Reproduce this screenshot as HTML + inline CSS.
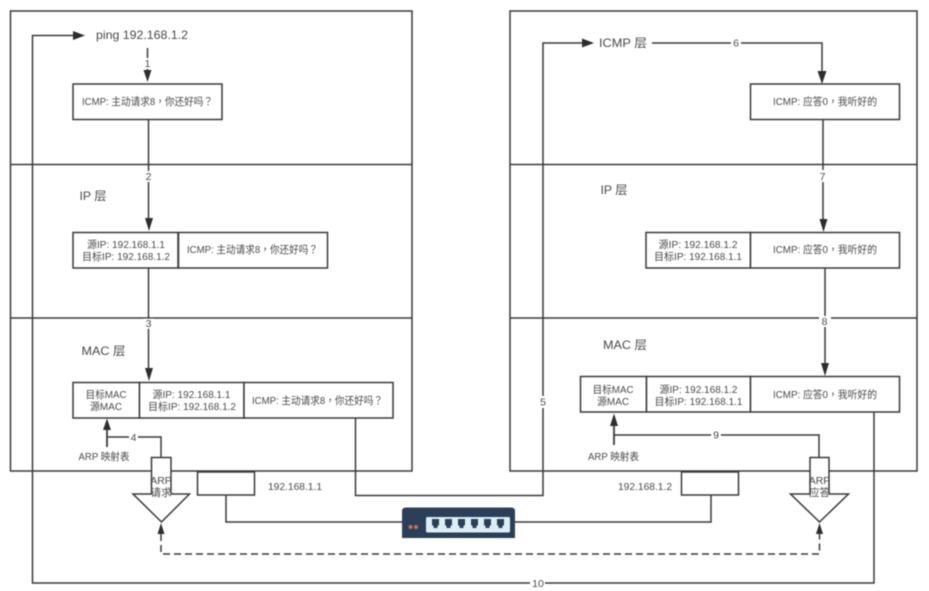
<!DOCTYPE html>
<html>
<head>
<meta charset="utf-8">
<style>
html,body{margin:0;padding:0;background:#fff;width:929px;height:591px;overflow:hidden}
svg{display:block;filter:blur(0.4px)}
text{font-family:"Liberation Sans","Noto Sans CJK TC",sans-serif;fill:#4a4a4a;font-size:10.5px;text-anchor:middle}
.l{fill:none;stroke:#3a3a3a;stroke-width:1.5}
.b{fill:#fff;stroke:#3a3a3a;stroke-width:1.5}
.a{fill:#2e2e2e;stroke:none}
.big{font-size:12px}
.bg{fill:#fff;stroke:none}
</style>
</head>
<body>
<svg width="929" height="591" viewBox="0 0 929 591" xmlns="http://www.w3.org/2000/svg">
<rect width="929" height="591" fill="#fff"/>

<!-- frames -->
<rect class="l" x="10.5" y="11" width="401.5" height="460"/>
<path class="l" d="M10.5 164.5H412M10.5 318H412"/>
<rect class="l" x="510" y="11" width="407" height="460"/>
<path class="l" d="M510 164.5H917M510 318H917"/>

<!-- connectors -->
<path class="l" d="M874 412V583H32.500V35.500H76"/>
<path class="a" d="M85 35.500L73 31V40Z"/>
<path class="l" d="M355.500 418V495.500H543V43H585"/>
<path class="a" d="M594 43L582 38.500V47.500Z"/>
<path class="l" d="M652 43H822V75"/>
<path class="a" d="M822 84L817.500 71H826.500Z"/>
<path class="l" d="M147.500 48V75"/>
<path class="a" d="M147.500 82L143.500 70H151.500Z"/>
<path class="l" d="M148.500 119V222"/>
<path class="a" d="M149 231L145 218H153Z"/>
<path class="l" d="M148.500 268V372"/>
<path class="a" d="M149 381L145 368H153Z"/>
<path class="l" d="M823 119V222"/>
<path class="a" d="M823.500 232L819.500 219H827.500Z"/>
<path class="l" d="M825 264V367"/>
<path class="a" d="M825 376L821 363H829Z"/>
<path class="l" d="M161 458V437H107"/>
<path class="l" d="M107 447V428" style="stroke-width:1.800"/>
<path class="a" d="M107 418.500L103 430H111Z"/>
<path class="l" d="M819 458V435H614"/>
<path class="l" d="M614 445V425" style="stroke-width:1.800"/>
<path class="a" d="M614 413.500L610 426H618Z"/>

<!-- dashed -->
<path class="l" d="M161 534V554H819.500V534" stroke-dasharray="7 4"/>
<path class="a" d="M161 523L157.500 534H164.500Z"/>
<path class="a" d="M819.500 523L816 534H823Z"/>

<!-- switch links -->
<path class="l" d="M226 495V522H402M515 522H711V495"/>

<!-- ICMP boxes -->
<rect class="b" x="73" y="84" width="149" height="35.500"/>
<rect class="b" x="750.500" y="84" width="149" height="35.500"/>

<!-- IP boxes -->
<rect class="b" x="73" y="232.500" width="105" height="35.500"/>
<rect class="b" x="178.500" y="232.500" width="149" height="35.500"/>
<rect class="b" x="646" y="232.500" width="104.500" height="35.500"/>
<rect class="b" x="750.500" y="232.500" width="149" height="35.500"/>

<!-- MAC boxes -->
<rect class="b" x="73" y="382.500" width="66.500" height="35.500"/>
<rect class="b" x="139.500" y="382.500" width="104.500" height="35.500"/>
<rect class="b" x="244" y="382.500" width="149" height="35.500"/>
<rect class="b" x="580.500" y="376.500" width="66" height="35.500"/>
<rect class="b" x="646.500" y="376.500" width="104" height="35.500"/>
<rect class="b" x="750.500" y="376.500" width="149" height="35.500"/>

<!-- NIC boxes -->
<rect class="b" x="197.500" y="472" width="57" height="23"/>
<rect class="b" x="681.500" y="472" width="57" height="23"/>

<!-- ARP arrows -->
<path class="b" d="M133 494H151.500V457.500H171V494H189.500L161.500 522Z"/>
<path class="b" d="M790.500 494H810V457.500H829V494H848.500L819.500 522Z"/>

<!-- switch -->
<path d="M402 511Q402 507.500 406 507.500H511Q515 507.500 515 511V538H402Z" fill="#2b4058"/>
<rect x="426" y="517" width="84" height="15.500" rx="1.500" fill="#dcedf5"/>
<g fill="#2b4058">
<path d="M432 519h7v6l-1.500 1v2h-4v-2l-1.500-1z"/>
<path d="M445 519h7v6l-1.500 1v2h-4v-2l-1.500-1z"/>
<path d="M458 519h7v6l-1.500 1v2h-4v-2l-1.500-1z"/>
<path d="M471 519h7v6l-1.500 1v2h-4v-2l-1.500-1z"/>
<path d="M484 519h7v6l-1.500 1v2h-4v-2l-1.500-1z"/>
<path d="M497 519h7v6l-1.500 1v2h-4v-2l-1.500-1z"/>
</g>
<circle cx="410.500" cy="527" r="2" fill="#c9714f"/>
<circle cx="416" cy="527" r="2" fill="#c9714f"/>

<!-- number labels -->
<rect class="bg" x="142" y="58" width="11" height="11"/><text x="147.500" y="67">1</text>
<rect class="bg" x="143" y="171" width="11" height="11"/><text x="148.500" y="180">2</text>
<rect class="bg" x="143" y="318.700" width="11" height="10"/><text x="148.500" y="327">3</text>
<rect class="bg" x="129" y="432" width="9" height="10"/><text x="133.500" y="441">4</text>
<rect class="bg" x="538" y="396" width="10" height="12"/><text x="543" y="405.500">5</text>
<rect class="bg" x="731" y="38" width="10" height="10"/><text x="736" y="46.500">6</text>
<rect class="bg" x="817" y="170" width="12" height="12"/><text x="822.500" y="180">7</text>
<rect class="bg" x="819" y="316" width="12" height="11"/><text x="824.500" y="325">8</text>
<rect class="bg" x="711" y="430" width="10" height="10"/><text x="716" y="438.500">9</text>
<rect class="bg" x="530" y="578" width="15" height="10"/><text x="538" y="587">10</text>

<!-- headings -->
<text class="big" x="142" y="39" textLength="92" lengthAdjust="spacingAndGlyphs">ping 192.168.1.2</text>
<text class="big" x="93" y="200" textLength="27" lengthAdjust="spacingAndGlyphs">IP 层</text>
<text class="big" x="103.500" y="355" textLength="44" lengthAdjust="spacingAndGlyphs">MAC 层</text>
<text class="big" x="623" y="47" textLength="48" lengthAdjust="spacingAndGlyphs">ICMP 层</text>
<text class="big" x="614" y="194" textLength="27" lengthAdjust="spacingAndGlyphs">IP 层</text>
<text class="big" x="625" y="349" textLength="44" lengthAdjust="spacingAndGlyphs">MAC 层</text>

<!-- box text left -->
<text x="147.500" y="105" textLength="131" lengthAdjust="spacingAndGlyphs">ICMP: 主动请求8，你还好吗？</text>
<text x="126" y="248" textLength="78" lengthAdjust="spacingAndGlyphs">源IP: 192.168.1.1</text>
<text x="126" y="260" textLength="88" lengthAdjust="spacingAndGlyphs">目标IP: 192.168.1.2</text>
<text x="252.500" y="253" textLength="131" lengthAdjust="spacingAndGlyphs">ICMP: 主动请求8，你还好吗？</text>
<text x="106" y="398" textLength="41" lengthAdjust="spacingAndGlyphs">目标MAC</text>
<text x="106" y="410" textLength="32" lengthAdjust="spacingAndGlyphs">源MAC</text>
<text x="191.500" y="398" textLength="78" lengthAdjust="spacingAndGlyphs">源IP: 192.168.1.1</text>
<text x="192" y="410" textLength="88" lengthAdjust="spacingAndGlyphs">目标IP: 192.168.1.2</text>
<text x="317.500" y="404" textLength="131" lengthAdjust="spacingAndGlyphs">ICMP: 主动请求8，你还好吗？</text>
<text x="104" y="460" textLength="51" lengthAdjust="spacingAndGlyphs">ARP 映射表</text>
<text x="295" y="490" textLength="54" lengthAdjust="spacingAndGlyphs">192.168.1.1</text>
<text x="161" y="484">ARP</text>
<text x="161" y="496">请求</text>

<!-- box text right -->
<text x="825" y="105" textLength="104" lengthAdjust="spacingAndGlyphs">ICMP: 应答0，我听好的</text>
<text x="698" y="248" textLength="79" lengthAdjust="spacingAndGlyphs">源IP: 192.168.1.2</text>
<text x="698" y="260" textLength="88" lengthAdjust="spacingAndGlyphs">目标IP: 192.168.1.1</text>
<text x="825" y="253" textLength="104" lengthAdjust="spacingAndGlyphs">ICMP: 应答0，我听好的</text>
<text x="613" y="393" textLength="41" lengthAdjust="spacingAndGlyphs">目标MAC</text>
<text x="613" y="405" textLength="32" lengthAdjust="spacingAndGlyphs">源MAC</text>
<text x="698.500" y="393" textLength="78" lengthAdjust="spacingAndGlyphs">源IP: 192.168.1.2</text>
<text x="698.500" y="405" textLength="88" lengthAdjust="spacingAndGlyphs">目标IP: 192.168.1.1</text>
<text x="825" y="398" textLength="104" lengthAdjust="spacingAndGlyphs">ICMP: 应答0，我听好的</text>
<text x="613.500" y="460" textLength="51" lengthAdjust="spacingAndGlyphs">ARP 映射表</text>
<text x="645" y="490" textLength="54" lengthAdjust="spacingAndGlyphs">192.168.1.2</text>
<text x="819.500" y="484">ARP</text>
<text x="819.500" y="496">应答</text>
</svg>
</body>
</html>
